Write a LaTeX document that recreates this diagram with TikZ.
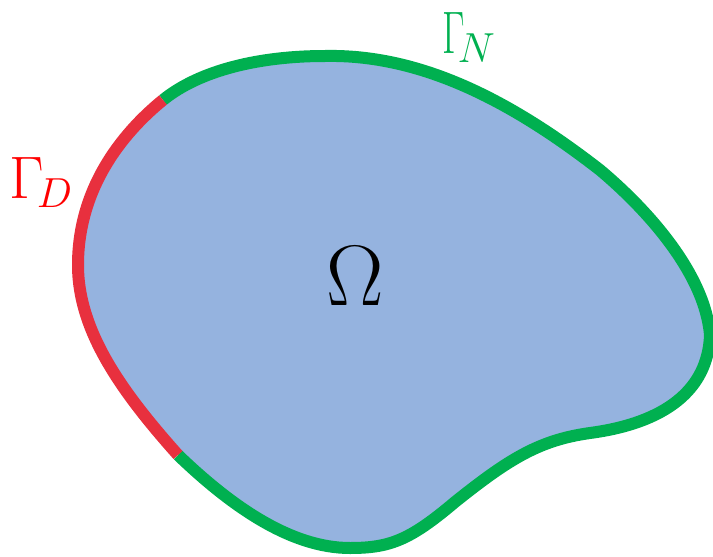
\RequirePackage{fix-cm}
\documentclass[tikz,border=0pt]{standalone}
\usepackage{amsmath}
\definecolor{domblue}{RGB}{149,179,223}
\definecolor{bgreen}{RGB}{0,176,80}
\definecolor{bred}{RGB}{232,48,62}
\definecolor{lred}{RGB}{255,0,0}
\tikzset{
  bnd/.style={line width=12pt, line cap=butt},
  lbl/.style={inner sep=0pt, anchor=base west, font=\fontsize{60}{62}\selectfont}
}
\begin{document}
\begin{tikzpicture}[x=1pt,y=-1pt]
\useasboundingbox (0,0) rectangle (713,557);
\coordinate (A) at (163,100);
\coordinate (T) at (325,56);
\coordinate (Q) at (600,170);
\coordinate (R) at (710,335);
\coordinate (S) at (590,433);
\coordinate (U) at (455,502);
\coordinate (Bt) at (350,548);
\coordinate (B) at (178,455);
\coordinate (L) at (78,265);
% fill
\fill[domblue] (A) .. controls (200,70) and (260,56) .. (T)
  .. controls (420,54) and (510,100) .. (Q)
  .. controls (650,212) and (705,275) .. (R)
  .. controls (708,390) and (665,423) .. (S)
  .. controls (540,440) and (510,458) .. (U)
  .. controls (410,540) and (390,548) .. (Bt)
  .. controls (290,548) and (230,505) .. (B)
  .. controls (120,390) and (78,330) .. (L)
  .. controls (78,190) and (120,135) .. (A) -- cycle;
% Neumann boundary
\draw[bnd, bgreen] (A) .. controls (200,70) and (260,56) .. (T)
  .. controls (420,54) and (510,100) .. (Q)
  .. controls (650,212) and (705,275) .. (R)
  .. controls (708,390) and (665,423) .. (S)
  .. controls (540,440) and (510,458) .. (U)
  .. controls (410,540) and (390,548) .. (Bt)
  .. controls (290,548) and (230,505) .. (B);
% Dirichlet boundary
\draw[bnd, bred] (B) .. controls (120,390) and (78,330) .. (L)
  .. controls (78,190) and (120,135) .. (A);
% labels
\node[lbl, text=lred] (gd) at (9,198) {$\Gamma_{\!D}$};
\node[lbl, text=bgreen] (gn) at (442,53) {$\scalebox{0.65}[1]{$\Gamma$}_{\!N}$};
\node[inner sep=0pt, font=\fontsize{86}{88}\selectfont] (om) at (355,276) {$\Omega$};
\end{tikzpicture}
\end{document}
